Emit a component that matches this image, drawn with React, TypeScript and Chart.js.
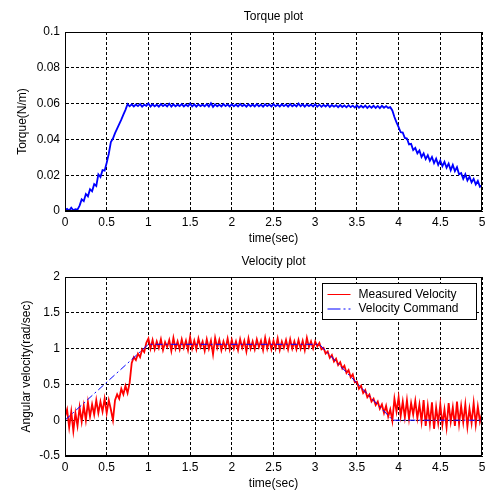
import React, { useEffect, useRef } from "react";
import { Chart, registerables } from "chart.js";

Chart.register(...registerables);

const FONT = '"Liberation Sans", Arial, Helvetica, sans-serif';

// sampling step of the recorded traces (seconds)
const TIME_STEP = 0.025;

// Torque trace, 0..5 s
const torque = [
  0.0005, 0.0012, 0.0002, 0.0018, 0.0004, 0.0010, 0.0008, 0.0030, 0.0065, 0.0055,
  0.0095, 0.0082, 0.0122, 0.0110, 0.0150, 0.0140, 0.0205, 0.0190, 0.0228, 0.0225,
  0.0270, 0.0320, 0.0385, 0.0405, 0.0435, 0.0460, 0.0485, 0.0510, 0.0538, 0.0565,
  0.0597, 0.0585, 0.0596, 0.0584, 0.0595, 0.0586, 0.0597, 0.0583, 0.0594, 0.0587,
  0.0601, 0.0584, 0.0596, 0.0585, 0.0594, 0.0583, 0.0597, 0.0586, 0.0595, 0.0584,
  0.0599, 0.0583, 0.0596, 0.0585, 0.0594, 0.0586, 0.0597, 0.0584, 0.0595, 0.0585,
  0.0600, 0.0584, 0.0596, 0.0583, 0.0595, 0.0586, 0.0594, 0.0585, 0.0597, 0.0584,
  0.0602, 0.0582, 0.0596, 0.0585, 0.0594, 0.0584, 0.0597, 0.0586, 0.0595, 0.0584,
  0.0596, 0.0585, 0.0595, 0.0584, 0.0597, 0.0586, 0.0594, 0.0583, 0.0596, 0.0585,
  0.0595, 0.0584, 0.0597, 0.0585, 0.0594, 0.0583, 0.0596, 0.0586, 0.0595, 0.0584,
  0.0597, 0.0585, 0.0594, 0.0584, 0.0596, 0.0586, 0.0595, 0.0583, 0.0597, 0.0585,
  0.0594, 0.0584, 0.0600, 0.0585, 0.0596, 0.0583, 0.0595, 0.0586, 0.0594, 0.0584,
  0.0596, 0.0583, 0.0594, 0.0582, 0.0593, 0.0584, 0.0595, 0.0581, 0.0592, 0.0583,
  0.0591, 0.0580, 0.0592, 0.0581, 0.0590, 0.0579, 0.0591, 0.0580, 0.0589, 0.0578,
  0.0590, 0.0577, 0.0588, 0.0578, 0.0589, 0.0576, 0.0587, 0.0577, 0.0588, 0.0576,
  0.0587, 0.0575, 0.0588, 0.0577, 0.0586, 0.0576, 0.0580, 0.0562, 0.0525, 0.0495,
  0.0468, 0.0440, 0.0438, 0.0408, 0.0405, 0.0372, 0.0375, 0.0340, 0.0352, 0.0322,
  0.0338, 0.0302, 0.0322, 0.0290, 0.0312, 0.0280, 0.0302, 0.0268, 0.0292, 0.0258,
  0.0282, 0.0250, 0.0275, 0.0242, 0.0265, 0.0228, 0.0258, 0.0222, 0.0245, 0.0205,
  0.0212, 0.0180, 0.0205, 0.0170, 0.0192, 0.0160, 0.0180, 0.0148, 0.0168, 0.0135,
  0.0144,
];

// Measured velocity trace, 0..5 s
const velMeasured = [
  0.05, 0.15, -0.10, 0.12, -0.15, 0.10, -0.08, 0.18, -0.02, 0.20,
  0.00, 0.25, 0.05, 0.22, 0.08, 0.28, 0.10, 0.26, 0.12, 0.30,
  0.10, 0.28, 0.15, 0.00, 0.28, 0.36, 0.30, 0.44, 0.36, 0.48,
  0.38, 0.52, 0.80, 0.88, 0.84, 0.93, 0.88, 0.99, 0.95, 1.08,
  1.14, 1.00, 1.12, 0.99, 1.10, 1.01, 1.13, 0.98, 1.09, 1.02,
  1.12, 0.97, 1.15, 1.00, 1.10, 0.99, 1.13, 1.01, 1.11, 0.98,
  1.16, 1.00, 1.11, 0.99, 1.14, 1.02, 1.10, 0.97, 1.13, 1.00,
  1.11, 0.92, 1.15, 1.01, 1.12, 0.98, 1.10, 1.00, 1.14, 0.99,
  1.12, 1.00, 1.10, 0.98, 1.13, 1.01, 1.11, 0.96, 1.14, 1.00,
  1.10, 0.99, 1.13, 1.02, 1.11, 0.98, 1.15, 1.00, 1.12, 0.99,
  1.11, 1.00, 1.14, 0.98, 1.10, 1.01, 1.12, 0.99, 1.13, 1.00,
  1.10, 0.99, 1.12, 1.00, 1.11, 0.98, 1.15, 1.02, 1.10, 1.00,
  1.10, 1.03, 1.08, 0.99, 1.01, 0.93, 0.96, 0.87, 0.91, 0.82,
  0.86, 0.77, 0.81, 0.72, 0.76, 0.66, 0.70, 0.60, 0.64, 0.53,
  0.54, 0.44, 0.48, 0.38, 0.42, 0.32, 0.36, 0.26, 0.30, 0.21,
  0.26, 0.16, 0.22, 0.10, 0.20, 0.05, 0.15, -0.01, 0.30, 0.12,
  0.32, 0.06, 0.26, 0.04, 0.28, 0.02, 0.24, 0.08, 0.27, 0.03,
  0.22, -0.02, 0.28, -0.08, 0.20, -0.05, 0.25, -0.12, 0.18, -0.04,
  0.22, -0.06, 0.15, -0.10, 0.24, -0.02, 0.18, -0.08, 0.26, -0.05,
  0.20, -0.03, 0.22, -0.09, 0.16, -0.04, 0.24, -0.06, 0.19, -0.02,
  0.10,
];

// Velocity command breakpoints
const cmdTimes = [0, 1.0, 3.05, 3.93, 5];
const cmdValues = [0, 1.06, 1.06, 0, 0];

// Axis ticks
const xTickValues = [0, 0.5, 1, 1.5, 2, 2.5, 3, 3.5, 4, 4.5, 5];
const xTickLabels = ["0", "0.5", "1", "1.5", "2", "2.5", "3", "3.5", "4", "4.5", "5"];
const torqueTickValues = [0, 0.02, 0.04, 0.06, 0.08, 0.1];
const torqueTickLabels = ["0", "0.02", "0.04", "0.06", "0.08", "0.1"];
const velTickValues = [-0.5, 0, 0.5, 1, 1.5, 2];
const velTickLabels = ["-0.5", "0", "0.5", "1", "1.5", "2"];

const legendLabels = ["Measured Velocity", "Velocity Command"];

const RED = "#ff0000";
const BLUE = "#0000ff";
const CMD_DASH = [7, 3, 2, 3];

const sampled = (vals: number[]) => vals.map((v, i) => ({ x: i * TIME_STEP, y: v }));

const boxPlugin = {
  id: "box",
  afterDatasetsDraw(chart: any) {
    const { ctx, chartArea: a } = chart;
    ctx.save();
    ctx.setLineDash([]);
    ctx.strokeStyle = "#000";
    ctx.lineWidth = 1;
    const l = Math.round(a.left) + 0.5;
    const t = Math.round(a.top) + 0.5;
    const r = Math.round(a.right) - 0.5;
    const b = Math.round(a.bottom) - 0.5;
    ctx.strokeRect(l, t, r - l, b - t);
    ctx.restore();
  },
};

const titlePlugin = (text: string) => ({
  id: "plotTitle",
  afterDraw(chart: any) {
    const { ctx, chartArea: a } = chart;
    ctx.save();
    ctx.font = `12px ${FONT}`;
    ctx.fillStyle = "#000";
    ctx.textAlign = "center";
    ctx.textBaseline = "middle";
    ctx.fillText(text, (a.left + a.right) / 2, 17);
    ctx.restore();
  },
});

const legendPlugin = {
  id: "boxLegend",
  afterDraw(chart: any) {
    const { ctx, chartArea: a } = chart;
    const w = 154;
    const h = 36;
    const x0 = Math.round(a.right) - 160 + 0.5;
    const y0 = Math.round(a.top) + 6 + 0.5;
    ctx.save();
    ctx.fillStyle = "#fff";
    ctx.fillRect(x0, y0, w, h);
    ctx.strokeStyle = "#000";
    ctx.lineWidth = 1;
    ctx.setLineDash([]);
    ctx.strokeRect(x0, y0, w, h);
    const rows = [y0 + 11, y0 + 25.5];
    ctx.strokeStyle = RED;
    ctx.beginPath();
    ctx.moveTo(x0 + 5, rows[0]);
    ctx.lineTo(x0 + 28, rows[0]);
    ctx.stroke();
    ctx.strokeStyle = BLUE;
    ctx.setLineDash([13, 3, 2, 3]);
    ctx.beginPath();
    ctx.moveTo(x0 + 5, rows[1]);
    ctx.lineTo(x0 + 28, rows[1]);
    ctx.stroke();
    ctx.setLineDash([]);
    ctx.font = `12px ${FONT}`;
    ctx.fillStyle = "#000";
    ctx.textAlign = "left";
    ctx.textBaseline = "middle";
    ctx.fillText(legendLabels[0], x0 + 36, rows[0]);
    ctx.fillText(legendLabels[1], x0 + 36, rows[1]);
    ctx.restore();
  },
};

function axisCommon() {
  return {
    grid: { color: "#000", lineWidth: 1, drawTicks: false },
    border: { display: true, color: "#000", dash: [3, 2] },
  };
}

function makeOptions(
  yMin: number,
  yMax: number,
  yTicks: number[],
  yLabels: string[],
  yTitle: string,
  yTitlePad: number,
  xHeight: number,
  xTitlePad: number
) {
  return {
    animation: false,
    responsive: false,
    devicePixelRatio: 1,
    layout: { padding: { top: 32, right: 10, left: 0, bottom: 0 } },
    plugins: {
      legend: { display: false },
      tooltip: { enabled: false },
      title: { display: false },
    },
    elements: { point: { radius: 0 }, line: { tension: 0 } },
    scales: {
      x: {
        type: "linear",
        min: 0,
        max: 5,
        ...axisCommon(),
        afterBuildTicks: (s: any) => {
          s.ticks = xTickValues.map((v) => ({ value: v }));
        },
        afterFit: (s: any) => {
          s.height = xHeight;
        },
        ticks: {
          color: "#000",
          font: { family: FONT, size: 12 },
          padding: 4,
          maxRotation: 0,
          autoSkip: false,
          callback: (_v: any, i: number) => xTickLabels[i],
        },
        title: {
          display: true,
          text: "time(sec)",
          color: "#000",
          font: { family: FONT, size: 12, lineHeight: 1 },
          padding: { top: 0, bottom: xTitlePad },
        },
      },
      y: {
        type: "linear",
        min: yMin,
        max: yMax,
        ...axisCommon(),
        afterBuildTicks: (s: any) => {
          s.ticks = yTicks.map((v) => ({ value: v }));
        },
        afterFit: (s: any) => {
          s.width = 65;
        },
        ticks: {
          color: "#000",
          font: { family: FONT, size: 12 },
          padding: 5,
          autoSkip: false,
          callback: (_v: any, i: number) => yLabels[i],
        },
        title: {
          display: true,
          text: yTitle,
          color: "#000",
          font: { family: FONT, size: 12, lineHeight: 1.2 },
          padding: { top: yTitlePad, bottom: 0 },
        },
      },
    },
  };
}

function TorqueChart() {
  const ref = useRef<HTMLCanvasElement | null>(null);
  useEffect(() => {
    if (!ref.current) return;
    const chart = new Chart(ref.current, {
      type: "line",
      data: {
        datasets: [
          {
            data: sampled(torque),
            borderColor: BLUE,
            borderWidth: 1.8,
            fill: false,
          },
        ],
      },
      options: makeOptions(0, 0.1, torqueTickValues, torqueTickLabels, "Torque(N/m)", 15, 34, 0) as any,
      plugins: [boxPlugin, titlePlugin("Torque plot")],
    } as any);
    return () => chart.destroy();
  }, []);
  return <canvas ref={ref} width={492} height={245} style={{ display: "block" }} />;
}

function VelocityChart() {
  const ref = useRef<HTMLCanvasElement | null>(null);
  useEffect(() => {
    if (!ref.current) return;
    const chart = new Chart(ref.current, {
      type: "line",
      data: {
        datasets: [
          {
            label: legendLabels[1],
            data: cmdTimes.map((t, i) => ({ x: t, y: cmdValues[i] })),
            borderColor: BLUE,
            borderWidth: 1,
            borderDash: CMD_DASH,
            fill: false,
            order: 0,
          },
          {
            label: legendLabels[0],
            data: sampled(velMeasured),
            borderColor: RED,
            borderWidth: 1.8,
            fill: false,
            order: 1,
          },
        ],
      },
      options: makeOptions(-0.5, 2, velTickValues, velTickLabels, "Angular velocity(rad/sec)", 19, 39, 5) as any,
      plugins: [boxPlugin, titlePlugin("Velocity plot"), legendPlugin],
    } as any);
    return () => chart.destroy();
  }, []);
  return <canvas ref={ref} width={492} height={250} style={{ display: "block" }} />;
}

export default function App() {
  return (
    <div style={{ position: "absolute", left: 0, top: 0, width: 492, height: 495, background: "#fff" }}>
      <div style={{ position: "absolute", left: 0, top: 0 }}>
        <TorqueChart />
      </div>
      <div style={{ position: "absolute", left: 0, top: 245 }}>
        <VelocityChart />
      </div>
    </div>
  );
}
